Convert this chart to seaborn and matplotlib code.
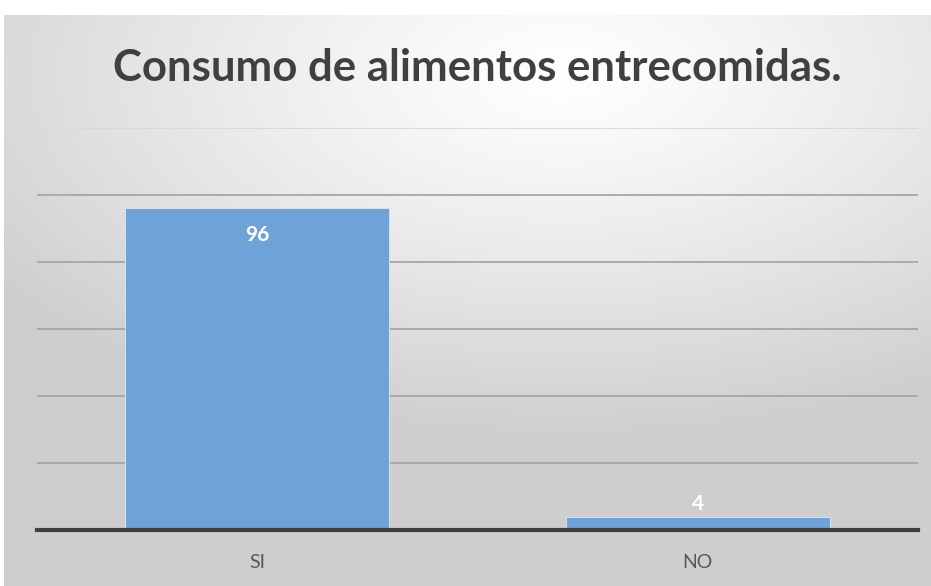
import numpy as np
import pandas as pd
import matplotlib
matplotlib.use("Agg")
import matplotlib.pyplot as plt
import seaborn as sns

categories = ["SI", "NO"]
values = [96, 4]

sns.set_theme(style="white")
plt.rcParams['font.family'] = ['Lato', 'DejaVu Sans']

W, H = 931, 586
fig = plt.figure(figsize=(W / 100, H / 100), dpi=100)
fig.patch.set_facecolor("white")

# background gradient panel
bg = fig.add_axes([4 / W, 0, 1 - 4 / W, 1 - 15 / H], zorder=-10)
yy, xx = np.mgrid[0:200, 0:300]
cx, cy = 180, 20
d = np.sqrt(((xx - cx) / 300) ** 2 + ((yy - cy) / 170) ** 2)
d = np.clip(d / 0.75, 0, 1)
light, dark = 1.0, 0.81
g = light - (light - dark) * d ** 1.2
img = np.dstack([g, g, g])
bg.imshow(img, aspect="auto", extent=[0, 1, 0, 1], origin="upper", interpolation="bicubic")
bg.set_axis_off()

ax = fig.add_axes([37 / W, (H - 530) / H, (918 - 37) / W, (530 - 128) / H])
ax.patch.set_alpha(0)
df = pd.DataFrame({"cat": categories, "val": values})
sns.barplot(data=df, x="cat", y="val", ax=ax, color="#6fa3d8", width=0.6,
            saturation=1, edgecolor="#dde9f5", linewidth=0.6, zorder=3)
ax.set_ylim(0, 120)
ax.set_yticks([0, 20, 40, 60, 80, 100, 120])
ax.yaxis.grid(True, color="#a6a6a6", linewidth=1.3, zorder=0)
ax.set_axisbelow(True)
glines = ax.yaxis.get_gridlines()
if len(glines):
    glines[-1].set_color("#d8d8d8")
for s in ["top", "right", "left"]:
    ax.spines[s].set_visible(False)
ax.spines["bottom"].set_color("#404040")
ax.spines["bottom"].set_linewidth(3)
ax.spines["bottom"].set_zorder(5)
ax.tick_params(axis="y", left=False, labelleft=False)
ax.tick_params(axis="x", bottom=False, length=0, labelsize=14, labelcolor="#595959", pad=17)
ax.set_xlabel("")
ax.set_ylabel("")

for i, v in enumerate(values):
    if v > 20:
        ax.text(i, v - 8, str(v), ha="center", va="center", color="white",
                fontsize=15, fontweight="bold", zorder=6)
    else:
        ax.text(i, v + 3.9, str(v), ha="center", va="center", color="white",
                fontsize=15, fontweight="bold", zorder=6)

fig.text(477.5 / W, 1 - 81 / H, "Consumo de alimentos entrecomidas.",
         ha="center", va="baseline", fontsize=31.5, fontweight="bold", color="#404040")

fig.savefig("out.png", dpi=100)
